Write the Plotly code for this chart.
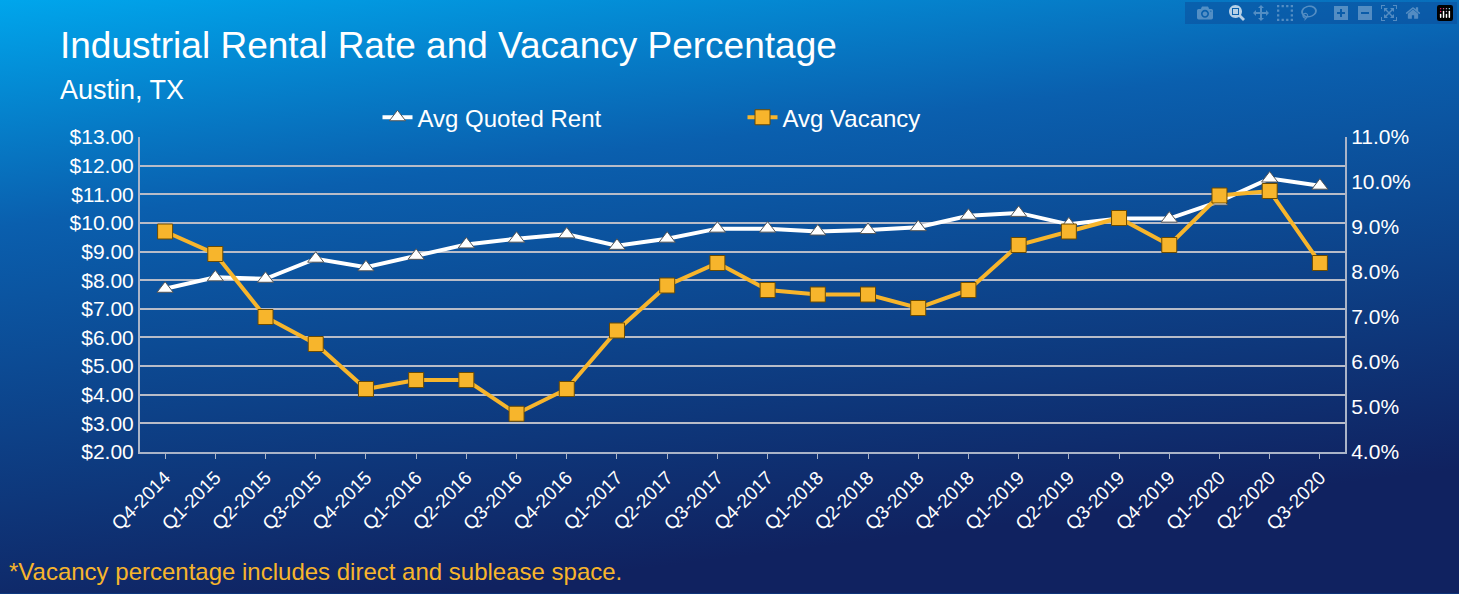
import plotly.graph_objects as go

quarters = ["Q4-2014", "Q1-2015", "Q2-2015", "Q3-2015", "Q4-2015", "Q1-2016", "Q2-2016",
            "Q3-2016", "Q4-2016", "Q1-2017", "Q2-2017", "Q3-2017", "Q4-2017", "Q1-2018",
            "Q2-2018", "Q3-2018", "Q4-2018", "Q1-2019", "Q2-2019", "Q3-2019", "Q4-2019",
            "Q1-2020", "Q2-2020", "Q3-2020"]
rent = [7.7, 8.1, 8.05, 8.75, 8.45, 8.85, 9.25, 9.45, 9.6, 9.2, 9.45, 9.8, 9.8, 9.7,
        9.75, 9.85, 10.25, 10.35, 9.95, 10.15, 10.15, 10.75, 11.55, 11.3]
vacancy = [8.9, 8.4, 7.0, 6.4, 5.4, 5.6, 5.6, 4.85, 5.4, 6.7, 7.7, 8.2, 7.6, 7.5,
           7.5, 7.2, 7.6, 8.6, 8.9, 9.2, 8.6, 9.7, 9.8, 8.2]

gold = "#F7B52C"
font = "Liberation Sans, Arial, sans-serif"

bg_svg = ("data:image/svg+xml;utf8,<svg xmlns='http://www.w3.org/2000/svg' width='1459' height='594'>"
          "<defs><linearGradient id='g' x1='0' y1='0' x2='0.3' y2='1'>"
          "<stop offset='0' stop-color='%2300A6EC'/><stop offset='0.35' stop-color='%230A5FAE'/>"
          "<stop offset='1' stop-color='%23102260'/></linearGradient></defs>"
          "<rect width='1459' height='594' fill='url(%23g)'/></svg>")

fig = go.Figure()
fig.add_trace(go.Scatter(
    x=quarters, y=rent, name="Avg Quoted Rent", mode="lines+markers",
    line=dict(color="white", width=4),
    marker=dict(symbol="triangle-up", size=14, color="white", line=dict(color="#555", width=1)),
))
fig.add_trace(go.Scatter(
    x=quarters, y=vacancy, name="Avg Vacancy", mode="lines+markers", yaxis="y2",
    line=dict(color=gold, width=4),
    marker=dict(symbol="square", size=15, color=gold, line=dict(color="#6b4a00", width=1)),
))

fig.update_layout(
    width=1459, height=594,
    margin=dict(l=140, r=114, t=137, b=142),
    paper_bgcolor="#0b4a98", plot_bgcolor="rgba(0,0,0,0)",
    font=dict(family=font, color="white", size=20),
    images=[dict(source=bg_svg, xref="paper", yref="paper", x=-0.117, y=1.436,
                 sizex=1.212, sizey=1.886, sizing="stretch", layer="below",
                 xanchor="left", yanchor="top")],
    showlegend=True,
    legend=dict(orientation="h", x=0.5, xanchor="center", y=0.99, yanchor="bottom",
                font=dict(size=24), bgcolor="rgba(0,0,0,0)", entrywidth=320),
    xaxis=dict(tickangle=-45, showgrid=False, showline=True, linecolor="#aab4c8",
               linewidth=2, ticks="outside", tickcolor="#aab4c8", tickfont=dict(size=19),
               range=[-0.5, 23.5]),
    yaxis=dict(range=[2, 13], dtick=1, tickprefix="$", tickformat=".2f",
               gridcolor="#b8bcc8", gridwidth=2, showline=True, linecolor="#aab4c8",
               linewidth=2, zeroline=False, tickfont=dict(size=21)),
    yaxis2=dict(range=[4, 11], dtick=1, ticksuffix="%", tickformat=".1f",
                overlaying="y", side="right", showgrid=False, showline=True,
                linecolor="#aab4c8", linewidth=2, zeroline=False, tickfont=dict(size=21)),
    annotations=[
        dict(text="Industrial Rental Rate and Vacancy Percentage", xref="paper", yref="paper",
             x=-0.068, y=1.29, xanchor="left", yanchor="middle", showarrow=False,
             font=dict(size=37, color="white")),
        dict(text="Austin, TX", xref="paper", yref="paper", x=-0.068, y=1.15,
             xanchor="left", yanchor="middle", showarrow=False, font=dict(size=27, color="white")),
        dict(text="*Vacancy percentage includes direct and sublease space.", xref="paper",
             yref="paper", x=-0.11, y=-0.38, xanchor="left", yanchor="middle",
             showarrow=False, font=dict(size=24, color=gold)),
    ],
)

fig.write_html("out.html", post_script="document.body.style.margin='0';")
